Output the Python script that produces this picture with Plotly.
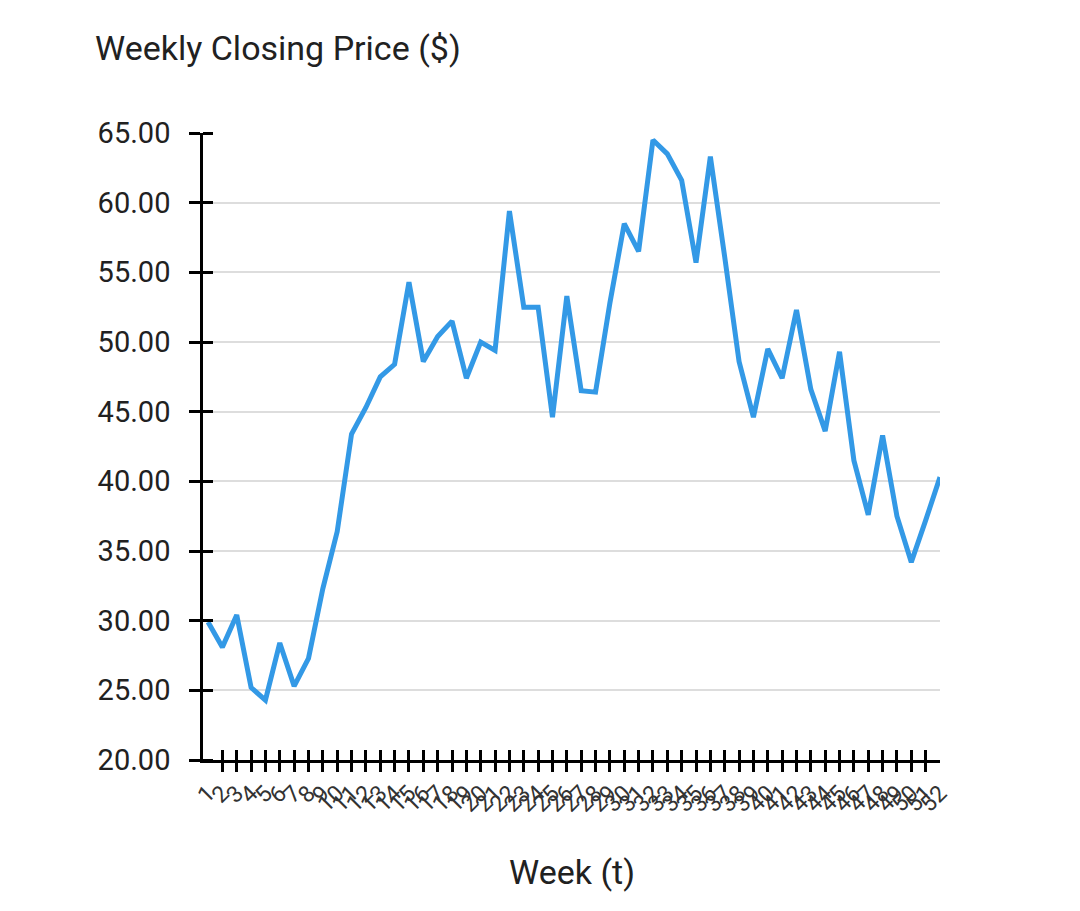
import plotly.graph_objects as go

weeks = list(range(1, 53))
week_labels = [str(w) for w in weeks]
prices = [29.9, 28.1, 30.4, 25.2, 24.3, 28.4, 25.3, 27.3, 32.3, 36.4,
          43.4, 45.3, 47.5, 48.4, 54.3, 48.6, 50.4, 51.5, 47.4, 50.0,
          49.4, 59.4, 52.5, 52.5, 44.6, 53.3, 46.5, 46.4, 52.8, 58.5,
          56.5, 64.5, 63.5, 61.6, 55.7, 63.3, 56.1, 48.6, 44.6, 49.5,
          47.4, 52.3, 46.6, 43.6, 49.3, 41.5, 37.6, 43.3, 37.5, 34.2,
          37.2, 40.3]
y_ticks = [20, 25, 30, 35, 40, 45, 50, 55, 60, 65]
x_tick_marks = weeks[1:-1]

FONT = "Roboto"
TXT = "#212121"
LINE = "#3399E6"

fig = go.Figure()
fig.add_trace(go.Scatter(x=weeks, y=prices, mode="lines",
                         line=dict(color=LINE, width=5),
                         showlegend=False, hoverinfo="x+y"))
# invisible traces to register the overlay axes (tick marks crossing the x axis)
for xa in ["x2", "x3"]:
    fig.add_trace(go.Scatter(x=weeks, y=prices, mode="markers", xaxis=xa, yaxis="y",
                             marker=dict(opacity=0), showlegend=False, hoverinfo="skip"))

xr = [0.65, 52]
yr = [20, 65]
tick_style = dict(tickwidth=2.5, tickcolor="black", showgrid=False, zeroline=False,
                  showline=False, showticklabels=False, tickmode="array")

fig.update_layout(
    width=1080, height=911,
    paper_bgcolor="white", plot_bgcolor="white",
    margin=dict(l=195, r=148, t=125, b=159),
    font=dict(family=FONT, color=TXT),
    title=dict(text="Weekly Closing Price ($)", font=dict(size=34, color=TXT, family=FONT),
               x=87/1080, xref="container", xanchor="left",
               y=1-40/911, yref="container", yanchor="middle"),
    xaxis=dict(range=xr, tickmode="array", tickvals=weeks, ticktext=week_labels,
               tickangle=-45, tickfont=dict(size=23, color="#333"),
               showgrid=False, zeroline=False,
               showline=True, linecolor="black", linewidth=2.5,
               ticks="outside", ticklen=11, tickwidth=2.5, tickcolor="rgba(0,0,0,0)",
               ticklabelshift=0, ticklabelstandoff=-3),
    xaxis2=dict(range=xr, overlaying="x", anchor="y", side="bottom",
                tickvals=x_tick_marks, ticks="outside", ticklen=11, **tick_style),
    xaxis3=dict(range=xr, overlaying="x", anchor="y", side="bottom",
                tickvals=x_tick_marks, ticks="inside", ticklen=10, **tick_style),
    yaxis=dict(range=yr, tickmode="array", tickvals=y_ticks, tickformat=".2f",
               tickfont=dict(size=29, color=TXT),
               showgrid=True, gridcolor="#DDDDDD", gridwidth=2,
               zeroline=False, showline=True, linecolor="black", linewidth=2.5,
               ticks="outside", ticklen=11, tickwidth=2.5, tickcolor="black",
               ticklabelstandoff=13,
               minor=dict(tickmode="array", tickvals=[v + 1e-6 for v in y_ticks],
                          ticks="inside", ticklen=10, tickwidth=2.5,
                          tickcolor="black", showgrid=False)),
    annotations=[dict(text="Week (t)", xref="paper", yref="paper",
                      x=0.5, y=(760-872)/627, xanchor="center", yanchor="middle",
                      showarrow=False, font=dict(size=34, color=TXT, family=FONT))],
)

fig.write_html("out.html")
